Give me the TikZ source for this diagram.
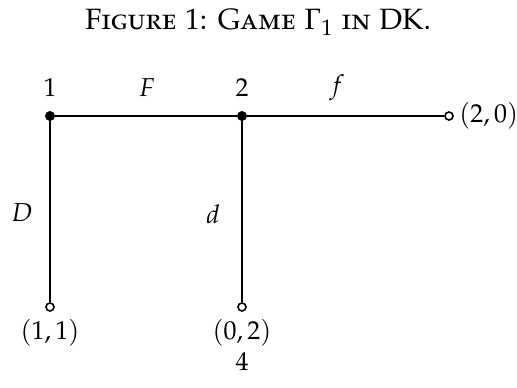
\documentclass[tikz,border=0pt]{standalone}
\usepackage[T1]{fontenc}
\usepackage[sc]{mathpazo}
\tikzset{
  lbl/.style={inner sep=0pt, font=\fontsize{26}{30}\selectfont},
  ttl/.style={inner sep=0pt, font=\fontsize{29.5}{34}\selectfont},
  dot/.style={circle, fill=black, draw=black, inner sep=0pt, minimum size=9.5bp},
  odot/.style={circle, fill=white, draw=black, line width=1.6bp, inner sep=0pt, minimum size=8bp},
  edge/.style={line width=2bp}
}
\begin{document}
\begin{tikzpicture}[x=1bp,y=1bp]
\useasboundingbox (0,0) rectangle (517,-387);
\node[ttl] (title) at (258,-22) {\textsc{Figure 1: Game $\Gamma_1$ in DK.}};
% nodes
\node[dot] (n1) at (50,-116) {};
\node[dot] (n2) at (242,-116) {};
\node[odot] (t1) at (449,-116) {};
\node[odot] (t2) at (50,-307) {};
\node[odot] (t3) at (242,-307) {};
% edges
\draw[edge] (n1) -- (n2);
\draw[edge] (n2) -- (t1);
\draw[edge] (n1) -- (t2);
\draw[edge] (n2) -- (t3);
% labels
\node[lbl] (l1) at (50,-88) {1};
\node[lbl] (l2) at (242,-88) {2};
\node[lbl] (lF) at (147,-88) {$F$};
\node[lbl] (lf) at (337,-88) {$f$};
\node[lbl] (lD) at (22,-213) {$D$};
\node[lbl] (ld) at (213,-214) {$d$};
\node[lbl, anchor=west] (p1) at (459,-116) {$(2,0)$};
\node[lbl] (p2) at (50,-333) {$(1,1)$};
\node[lbl] (p3) at (242,-333) {$(0,2)$};
\node[lbl] (p4) at (242,-362) {4};
\end{tikzpicture}
\end{document}
